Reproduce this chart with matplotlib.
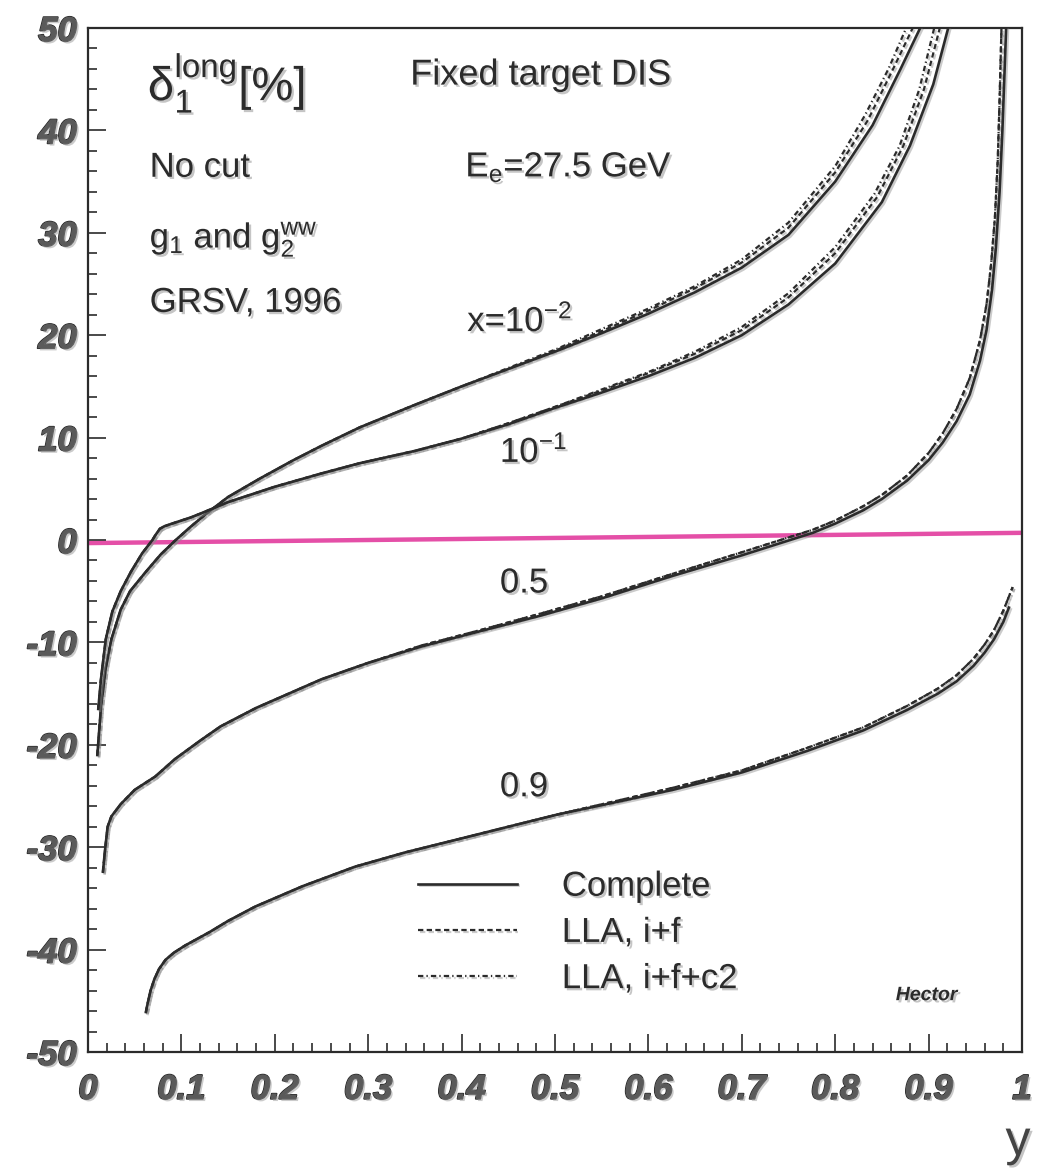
import matplotlib
matplotlib.use("Agg")
import matplotlib.pyplot as plt
import matplotlib.patheffects as pe
from matplotlib.ticker import MultipleLocator, FixedLocator, FixedFormatter

# ---------------- data ----------------
# curve x = 1e-2
y_a = [0.010, 0.014, 0.019, 0.025, 0.035, 0.045, 0.062, 0.078, 0.094, 0.110, 0.127, 0.150,
       0.184, 0.220, 0.250, 0.291, 0.350, 0.400, 0.450, 0.503, 0.550, 0.600, 0.650, 0.700,
       0.750, 0.800, 0.840, 0.870, 0.891]
a_complete = [-21.0, -16.2, -12.5, -9.7, -6.8, -5.0, -3.1, -1.4, 0.0, 1.3, 2.6, 4.2,
              6.0, 7.8, 9.2, 11.0, 13.2, 15.0, 16.7, 18.5, 20.2, 22.1, 24.2, 26.6,
              29.8, 35.0, 40.5, 46.0, 50.0]
y_a_if = [0.010, 0.014, 0.019, 0.025, 0.035, 0.045, 0.062, 0.078, 0.094, 0.110, 0.127, 0.150,
          0.184, 0.220, 0.250, 0.291, 0.350, 0.400, 0.450, 0.503, 0.550, 0.600, 0.650, 0.700,
          0.750, 0.800, 0.835, 0.862, 0.883]
a_lla_if = [-21.0, -16.2, -12.5, -9.7, -6.8, -5.0, -3.1, -1.4, 0.0, 1.3, 2.6, 4.2,
            6.0, 7.8, 9.2, 11.0, 13.2, 15.0, 16.7, 18.6, 20.4, 22.4, 24.6, 27.1,
            30.5, 35.9, 41.0, 46.0, 50.0]
y_a_ifc2 = [0.010, 0.014, 0.019, 0.025, 0.035, 0.045, 0.062, 0.078, 0.094, 0.110, 0.127, 0.150,
            0.184, 0.220, 0.250, 0.291, 0.350, 0.400, 0.450, 0.503, 0.550, 0.600, 0.650, 0.700,
            0.750, 0.800, 0.832, 0.857, 0.876]
a_lla_ifc2 = [-21.0, -16.2, -12.5, -9.7, -6.8, -5.0, -3.1, -1.4, 0.0, 1.3, 2.6, 4.2,
              6.0, 7.8, 9.2, 11.0, 13.2, 15.0, 16.8, 18.7, 20.6, 22.6, 24.8, 27.4,
              31.0, 36.5, 41.5, 46.0, 50.0]

# curve x = 1e-1
y_b = [0.011, 0.014, 0.019, 0.026, 0.035, 0.046, 0.058, 0.069, 0.072, 0.077, 0.082, 0.090,
       0.110, 0.121, 0.150, 0.200, 0.250, 0.291, 0.350, 0.400, 0.450, 0.500, 0.550, 0.600,
       0.650, 0.700, 0.750, 0.800, 0.850, 0.880, 0.905, 0.921]
b_complete = [-16.5, -13.5, -9.7, -7.0, -5.0, -3.1, -1.3, 0.0, 0.45, 1.1, 1.35, 1.6,
              2.2, 2.6, 3.7, 5.2, 6.5, 7.5, 8.7, 9.9, 11.3, 12.9, 14.4, 16.0,
              17.8, 20.0, 23.0, 27.0, 33.0, 38.5, 44.5, 50.0]
y_b_if = [0.011, 0.014, 0.019, 0.026, 0.035, 0.046, 0.058, 0.069, 0.072, 0.077, 0.082, 0.090,
          0.110, 0.121, 0.150, 0.200, 0.250, 0.291, 0.350, 0.400, 0.450, 0.500, 0.550, 0.600,
          0.650, 0.700, 0.750, 0.800, 0.845, 0.873, 0.895, 0.912]
b_lla_if = [-16.5, -13.5, -9.7, -7.0, -5.0, -3.1, -1.3, 0.0, 0.45, 1.1, 1.35, 1.6,
            2.2, 2.6, 3.7, 5.2, 6.5, 7.5, 8.7, 9.9, 11.4, 13.0, 14.6, 16.3,
            18.2, 20.5, 23.7, 28.0, 33.5, 38.5, 44.0, 50.0]
y_b_ifc2 = [0.011, 0.014, 0.019, 0.026, 0.035, 0.046, 0.058, 0.069, 0.072, 0.077, 0.082, 0.090,
            0.110, 0.121, 0.150, 0.200, 0.250, 0.291, 0.350, 0.400, 0.450, 0.500, 0.550, 0.600,
            0.650, 0.700, 0.750, 0.800, 0.842, 0.869, 0.890, 0.906]
b_lla_ifc2 = [-16.5, -13.5, -9.7, -7.0, -5.0, -3.1, -1.3, 0.0, 0.45, 1.1, 1.35, 1.6,
              2.2, 2.6, 3.7, 5.2, 6.5, 7.5, 8.7, 9.9, 11.4, 13.0, 14.7, 16.4,
              18.4, 20.8, 24.1, 28.6, 33.8, 38.5, 44.0, 50.0]

# curve x = 0.5
y_c = [0.016, 0.018, 0.021, 0.025, 0.035, 0.050, 0.072, 0.093, 0.120, 0.142, 0.180, 0.250,
       0.300, 0.357, 0.420, 0.484, 0.550, 0.626, 0.700, 0.776, 0.800, 0.830, 0.850, 0.877,
       0.900, 0.915, 0.930, 0.944, 0.955, 0.962, 0.968, 0.972, 0.976, 0.979, 0.981, 0.983]
c_complete = [-32.4, -30.5, -28.0, -27.0, -25.8, -24.4, -23.1, -21.4, -19.6, -18.2, -16.4, -13.6,
              -12.0, -10.4, -8.9, -7.4, -5.7, -3.5, -1.5, 0.7, 1.6, 2.9, 4.0, 5.8,
              7.8, 9.5, 11.6, 14.2, 17.5, 20.5, 24.5, 28.5, 34.0, 40.0, 45.0, 50.0]
y_c_if = [0.016, 0.018, 0.021, 0.025, 0.035, 0.050, 0.072, 0.093, 0.120, 0.142, 0.180, 0.250,
          0.300, 0.357, 0.420, 0.484, 0.550, 0.626, 0.700, 0.776, 0.800, 0.830, 0.850, 0.877,
          0.900, 0.915, 0.930, 0.944, 0.955, 0.962, 0.967, 0.971, 0.974, 0.976, 0.978]
c_lla_if = [-32.4, -30.5, -28.0, -27.0, -25.8, -24.4, -23.1, -21.4, -19.6, -18.2, -16.4, -13.6,
            -12.0, -10.3, -8.8, -7.2, -5.5, -3.3, -1.2, 1.0, 1.9, 3.3, 4.4, 6.3,
            8.5, 10.4, 12.8, 15.8, 19.5, 23.0, 27.0, 31.5, 37.0, 43.0, 50.0]
c_lla_ifc2 = list(c_lla_if)

# curve x = 0.9
y_d = [0.062, 0.064, 0.067, 0.071, 0.076, 0.083, 0.092, 0.104, 0.130, 0.150, 0.179, 0.230,
       0.286, 0.340, 0.393, 0.450, 0.503, 0.560, 0.626, 0.700, 0.770, 0.830, 0.877, 0.910,
       0.930, 0.948, 0.960, 0.970, 0.980, 0.986]
d_complete = [-46.1, -45.2, -44.0, -42.9, -41.9, -41.0, -40.3, -39.6, -38.3, -37.2, -35.8, -33.8,
              -31.9, -30.5, -29.3, -28.0, -26.8, -25.7, -24.4, -22.7, -20.6, -18.6, -16.6, -15.0,
              -13.8, -12.3, -11.0, -9.7, -8.0, -6.6]
y_d_if = [0.062, 0.064, 0.067, 0.071, 0.076, 0.083, 0.092, 0.104, 0.130, 0.150, 0.179, 0.230,
          0.286, 0.340, 0.393, 0.450, 0.503, 0.560, 0.626, 0.700, 0.770, 0.830, 0.877, 0.910,
          0.930, 0.948, 0.960, 0.970, 0.980, 0.990]
d_lla_if = [-46.1, -45.2, -44.0, -42.9, -41.9, -41.0, -40.3, -39.6, -38.3, -37.2, -35.8, -33.8,
            -31.9, -30.5, -29.3, -28.0, -26.8, -25.6, -24.2, -22.5, -20.3, -18.3, -16.2, -14.5,
            -13.2, -11.6, -10.2, -8.8, -6.9, -4.6]
d_lla_ifc2 = list(d_lla_if)

# hand-drawn zero marker line
zero_x = [0.0, 1.0]
zero_v = [-0.3, 0.7]

legend_labels = ["Complete", "LLA, i+f", "LLA, i+f+c2"]
xtick_vals = [0, 0.1, 0.2, 0.3, 0.4, 0.5, 0.6, 0.7, 0.8, 0.9, 1.0]
xtick_labels = ["0", "0.1", "0.2", "0.3", "0.4", "0.5", "0.6", "0.7", "0.8", "0.9", "1"]
ytick_vals = [-50, -40, -30, -20, -10, 0, 10, 20, 30, 40, 50]
ytick_labels = ["-50", "-40", "-30", "-20", "-10", "0", "10", "20", "30", "40", "50"]

# ---------------- style ----------------
plt.rcParams["font.family"] = ["Liberation Sans", "DejaVu Sans"]
plt.rcParams["mathtext.fontset"] = "custom"
plt.rcParams["mathtext.rm"] = "Liberation Sans"
plt.rcParams["mathtext.it"] = "Liberation Sans"
plt.rcParams["mathtext.bf"] = "Liberation Sans:bold"

INK = "#2b2b2b"
line_fx = [pe.SimpleLineShadow(offset=(1.3, -1.3), shadow_color="0.55", alpha=0.45), pe.Normal()]
text_fx = [pe.withSimplePatchShadow(offset=(1.6, -1.6), shadow_rgbFace="0.55", alpha=0.5)]

fig = plt.figure(figsize=(10.37, 11.69), dpi=100)
ax = fig.add_axes([88 / 1037, 1 - 1052 / 1169, (1022 - 88) / 1037, (1052 - 28) / 1169])

dash = (0, (2.4, 1.5))
dashdot = (0, (2.4, 1.4, 0.6, 1.4))

ax.plot(zero_x, zero_v, color="#e23c9e", lw=3.2, alpha=0.9, solid_capstyle="butt", zorder=1)

series = [
    (y_a, a_complete, y_a_if, a_lla_if, y_a_ifc2, a_lla_ifc2),
    (y_b, b_complete, y_b_if, b_lla_if, y_b_ifc2, b_lla_ifc2),
    (y_c, c_complete, y_c_if, c_lla_if, y_c_if, c_lla_ifc2),
    (y_d, d_complete, y_d_if, d_lla_if, y_d_if, d_lla_ifc2),
]
h_complete = h_if = h_ifc2 = None
for ys, vs, yi, vi, yc, vc in series:
    l3, = ax.plot(yc, vc, color=INK, lw=1.6, linestyle=dashdot, path_effects=line_fx, zorder=3)
    l2, = ax.plot(yi, vi, color=INK, lw=1.6, linestyle=dash, path_effects=line_fx, zorder=3)
    l1, = ax.plot(ys, vs, color=INK, lw=1.9, linestyle="-", path_effects=line_fx, zorder=4)
    if h_complete is None:
        h_complete, h_if, h_ifc2 = l1, l2, l3

ax.set_xlim(0, 1)
ax.set_ylim(-50, 50)

ax.xaxis.set_major_locator(FixedLocator(xtick_vals))
ax.xaxis.set_major_formatter(FixedFormatter(xtick_labels))
ax.yaxis.set_major_locator(FixedLocator(ytick_vals))
ax.yaxis.set_major_formatter(FixedFormatter(ytick_labels))
ax.xaxis.set_minor_locator(MultipleLocator(0.02))
ax.yaxis.set_minor_locator(MultipleLocator(2))
ax.tick_params(which="both", direction="in", top=False, right=False, width=1.2, color=INK)
ax.tick_params(which="major", length=13)
ax.tick_params(which="minor", length=6.5)
ax.tick_params(axis="x", which="major", pad=15)
ax.tick_params(axis="y", which="major", pad=8)
for lab in ax.get_xticklabels() + ax.get_yticklabels():
    lab.set_fontsize(25)
    lab.set_fontweight("bold")
    lab.set_fontstyle("italic")
    lab.set_color("#5a5a5a")
    lab.set_path_effects([pe.withStroke(linewidth=1.2, foreground="#222222"),
                          pe.withSimplePatchShadow(offset=(1.6, -1.6), shadow_rgbFace="0.6", alpha=0.5)])
for s in ax.spines.values():
    s.set_linewidth(1.6)
    s.set_color(INK)

# ---------------- texts ----------------
def put(x, yv, s, size, **kw):
    ax.text(x, yv, s, fontsize=size, color=INK, va="center", ha="left",
            path_effects=text_fx, **kw)

put(0.064, 44.6, "δ$_{1}^{\\mathrm{long}}$[%]", 34)
put(0.345, 45.4, "Fixed target DIS", 26)
put(0.066, 36.4, "No cut", 25)
put(0.404, 36.4, "E$_{e}$=27.5 GeV", 25)
put(0.066, 29.4, "g$_{1}$ and g$_{2}^{\\mathrm{ww}}$", 25)
put(0.066, 23.2, "GRSV, 1996", 25)
put(0.406, 21.4, "x=10$^{-2}$", 25)
put(0.441, 8.6, "10$^{-1}$", 25)
put(0.441, -4.2, "0.5", 25)
put(0.441, -24.1, "0.9", 25)
ax.text(0.898, -44.5, "Hector", fontsize=14, fontweight="bold", fontstyle="italic",
        color=INK, ha="center", va="center", path_effects=text_fx)

leg = ax.legend([h_complete, h_if, h_ifc2], legend_labels,
                loc="upper left", bbox_to_anchor=(0.353, 0.178), frameon=False,
                fontsize=25, handlelength=2.85, handletextpad=1.3, labelspacing=0.38,
                borderpad=0, borderaxespad=0)
for t in leg.get_texts():
    t.set_color(INK)
    t.set_path_effects(text_fx)

fig.text(1018 / 1037, 1 - 1142 / 1169, "y", fontsize=36, color="#444444",
         ha="center", va="center", path_effects=text_fx)

fig.savefig("out.png", dpi=100, facecolor="white")
